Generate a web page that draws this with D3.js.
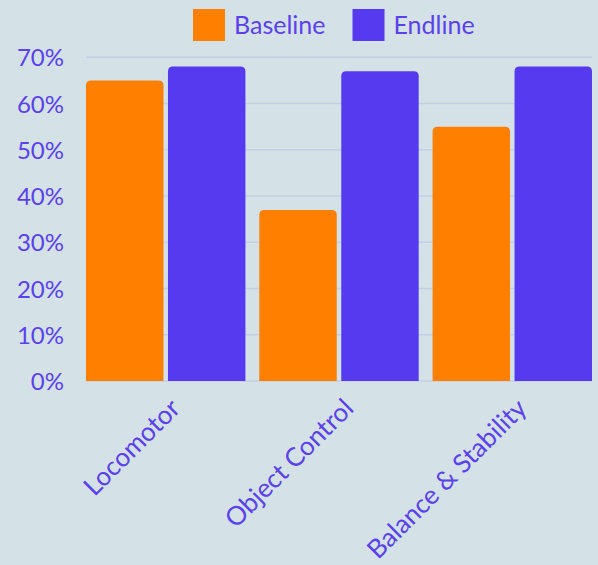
<!DOCTYPE html>
<html>
<head>
<meta charset="utf-8">
<script src="https://cdn.jsdelivr.net/npm/d3@7"></script>
<style>
  html, body { margin: 0; padding: 0; background: #d4e1e6; }
  svg { display: block; }
  text { font-family: Lato, "Noto Sans", sans-serif; fill: #5a41ec; }
</style>
</head>
<body>
<svg id="chart" width="598" height="565"></svg>
<script>
// Motor skill scores, share of children (%)
const categories = ["Locomotor", "Object Control", "Balance & Stability"];
const seriesNames = ["Baseline", "Endline"];
const baseline = [65, 37, 55];
const endline = [68, 67, 68];
const yTicks = [0, 10, 20, 30, 40, 50, 60, 70];
const colors = ["#ff7f00", "#563af0"];

const seriesValues = [baseline, endline];
const rows = categories.map((c, i) => ({
  category: c,
  values: seriesNames.map((s, j) => ({ series: s, value: seriesValues[j][i], color: colors[j] }))
}));

const svg = d3.select("#chart");
const plot = { left: 86, right: 592, top: 57.3, bottom: 381 };

const y = d3.scaleLinear().domain([0, 70]).range([plot.bottom, plot.top]);
const x0 = d3.scaleBand().domain(categories).range([plot.left, plot.right])
  .paddingInner(0.08).paddingOuter(0);
const x1 = d3.scaleBand().domain(seriesNames).range([0, x0.bandwidth()])
  .paddingInner(0.055).paddingOuter(0);

// Horizontal gridlines
svg.append("g")
  .selectAll("line")
  .data(yTicks)
  .join("line")
  .attr("x1", plot.left)
  .attr("x2", plot.right)
  .attr("y1", d => y(d))
  .attr("y2", d => y(d))
  .attr("stroke", "#c4cfe6")
  .attr("stroke-width", 1.5);

// Y axis labels
const yAxis = d3.axisLeft(y).tickValues(yTicks).tickFormat(d => d + "%").tickSize(0).tickPadding(0);
const yg = svg.append("g").attr("transform", `translate(64,0)`).call(yAxis);
yg.select(".domain").remove();
yg.selectAll("text")
  .attr("font-size", 24)
  .attr("font-family", "Lato, 'Noto Sans', sans-serif")
  .attr("fill", "#5a41ec")
  .attr("dy", "0.36em");

// Bars with rounded top corners
function topRounded(x, yTop, w, h, r) {
  r = Math.min(r, w / 2, h);
  return `M${x},${yTop + h}V${yTop + r}Q${x},${yTop} ${x + r},${yTop}` +
         `H${x + w - r}Q${x + w},${yTop} ${x + w},${yTop + r}V${yTop + h}Z`;
}

const groups = svg.append("g")
  .selectAll("g")
  .data(rows)
  .join("g")
  .attr("transform", d => `translate(${x0(d.category)},0)`);

groups.selectAll("path")
  .data(d => d.values)
  .join("path")
  .attr("d", d => topRounded(x1(d.series), y(d.value), x1.bandwidth(), y(0) - y(d.value), 5))
  .attr("fill", d => d.color);

// Rotated category labels
const xAxis = d3.axisBottom(x0).tickSize(0).tickPadding(0);
const xg = svg.append("g").attr("transform", `translate(0,${plot.bottom})`).call(xAxis);
xg.select(".domain").remove();
xg.selectAll("text")
  .attr("font-size", 26)
  .attr("font-family", "Lato, 'Noto Sans', sans-serif")
  .attr("fill", "#5a41ec")
  .attr("text-anchor", "end")
  .attr("dy", null)
  .attr("transform", "translate(16,29) rotate(-45)");

// Legend
const legend = svg.append("g");
const legendX = [193, 352.5];
seriesNames.forEach((s, i) => {
  const g = legend.append("g").attr("transform", `translate(${legendX[i]},9)`);
  g.append("rect").attr("width", 32).attr("height", 32).attr("fill", colors[i]);
  g.append("text").attr("x", 41).attr("y", 25).attr("font-size", 25).text(s);
});
</script>
</body>
</html>
